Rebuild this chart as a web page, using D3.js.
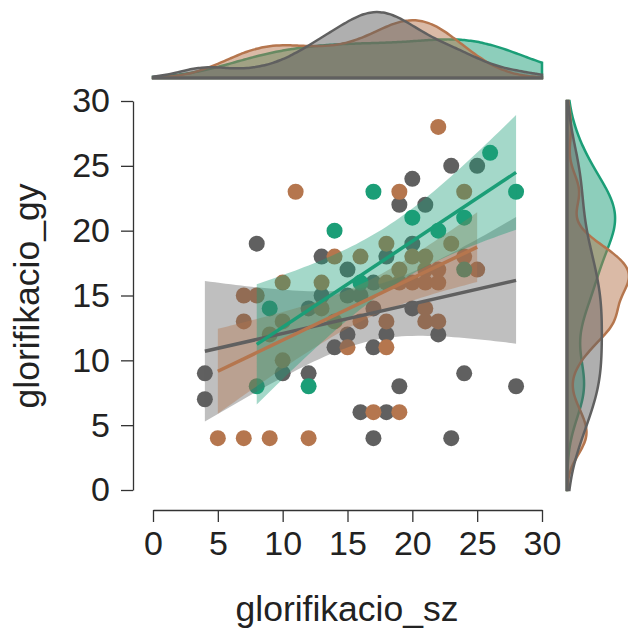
<!DOCTYPE html>
<html><head><meta charset="utf-8">
<script src="https://cdn.jsdelivr.net/npm/d3@7"></script>
<style>body{margin:0;background:#fff}svg{display:block}</style>
</head><body><svg id="c" width="628" height="632"></svg>
<script>
// ---- data ----
const groups = ["gray", "brown", "green"];
const grayX  = [4,4,8,10,12,12,13,13,14,15,15,15,16,16,17,17,17,17,18,18,18,19,19,20,20,20,21,22,23,23,24,25,28];
const grayY  = [9,7,19,9,9,14,18,15,11,12,15,17,15,6,14,11,4,16,12,6,18,22,8,24,14,19,22,12,25,4,9,25,8];
const brownX = [5,7,9,12,7,7,8,9,10,10,10,11,13,13,14,14,15,16,16,17,18,18,18,18,19,19,19,19,20,20,21,21,21,21,21,22,22,22,22,23,24,24,25];
const brownY = [4,4,4,4,13,15,15,12,10,13,16,23,14,16,13,18,11,13,18,6,11,13,16,19,6,16,17,23,16,18,13,14,16,17,18,13,16,17,28,19,18,23,17];
const greenX = [26,28,17,20,24,22,14,16,9,8,12,24];
const greenY = [26,23,23,21,21,20,20,16,14,8,8,17];
const xTicks = [0,5,10,15,20,25,30];
const yTicks = [0,5,10,15,20,25,30];
const xLabel = "glorifikacio_sz";
const yLabel = "glorifikacio_gy";
const colors = {gray:"#606060", brown:"#b5764e", green:"#1b9e77"};

const series = [
  {key:"gray",  xs:grayX,  ys:grayY},
  {key:"brown", xs:brownX, ys:brownY},
  {key:"green", xs:greenX, ys:greenY}
];

const svg = d3.select("#c");
const font = "'Liberation Sans', Arial, Helvetica, sans-serif";
const x = d3.scaleLinear().domain([0,30]).range([153,542]);
const y = d3.scaleLinear().domain([0,30]).range([490,101]);

// stats helpers
function tq(df){const z=1.959964;return z+(z**3+z)/(4*df)+(5*z**5+16*z**3+3*z)/(96*df*df)+(3*z**7+19*z**5+17*z**3-15*z)/(384*df**3);}
function fit(xs,ys){
  const n=xs.length,mx=d3.mean(xs),my=d3.mean(ys);
  let sxx=0,sxy=0;xs.forEach((v,i)=>{sxx+=(v-mx)**2;sxy+=(v-mx)*(ys[i]-my);});
  const b=sxy/sxx,a=my-b*mx;
  let ss=0;xs.forEach((v,i)=>{ss+=(ys[i]-a-b*v)**2;});
  const s=Math.sqrt(ss/(n-2)),t=tq(n-2);
  return {a,b,n,mx,sxx,s,t,lo:d3.min(xs),hi:d3.max(xs)};
}
function bw(v){const sd=d3.deviation(v);const s=v.slice().sort(d3.ascending);const iqr=d3.quantile(s,0.75)-d3.quantile(s,0.25);return 0.9*Math.min(sd,iqr/1.34)*Math.pow(v.length,-0.2);}
function kde(v){const h=bw(v);return d3.range(0,30.001,0.25).map(g=>[g,d3.mean(v,d=>Math.exp(-0.5*((g-d)/h)**2))/(h*Math.sqrt(2*Math.PI))]);}

// points
series.forEach(sr=>{
  svg.append("g").selectAll("circle").data(sr.xs.map((v,i)=>[v,sr.ys[i]])).join("circle")
    .attr("cx",d=>x(d[0])).attr("cy",d=>y(d[1])).attr("r",8).attr("fill",colors[sr.key]);
});
// bands
series.forEach(sr=>{
  const f=fit(sr.xs,sr.ys);
  const pts=d3.range(f.lo,f.hi+0.0001,(f.hi-f.lo)/60).map(v=>{
    const yh=f.a+f.b*v,se=f.s*Math.sqrt(1/f.n+(v-f.mx)**2/f.sxx);return [v,yh-f.t*se,yh+f.t*se];});
  svg.append("path").datum(pts).attr("fill",colors[sr.key]).attr("fill-opacity",0.4)
    .attr("d",d3.area().x(d=>x(d[0])).y0(d=>y(d[1])).y1(d=>y(d[2])));
});
// lines
series.forEach(sr=>{
  const f=fit(sr.xs,sr.ys);
  svg.append("path").datum([f.lo,f.hi]).attr("fill","none").attr("stroke",colors[sr.key]).attr("stroke-width",3.5)
    .attr("d",d3.line().x(d=>x(d)).y(d=>y(f.a+f.b*d)));
});

// axes
const yAx=svg.append("g").attr("transform","translate(133,0)")
  .call(d3.axisLeft(y).tickValues(yTicks).tickSize(12).tickSizeOuter(0).tickPadding(11));
const xAx=svg.append("g").attr("transform","translate(0,510)")
  .call(d3.axisBottom(x).tickValues(xTicks).tickSize(12).tickSizeOuter(0).tickPadding(9));
[yAx,xAx].forEach(g=>{
  g.selectAll("path,line").attr("stroke","#333").attr("stroke-width",1.3);
  g.selectAll("text").attr("font-family",font).attr("font-size",34).attr("fill","#222");
});
svg.append("text").attr("x",347).attr("y",621).attr("text-anchor","middle")
  .attr("font-family",font).attr("font-size",35.5).attr("fill","#222").text(xLabel);
svg.append("text").attr("transform","translate(39,296) rotate(-90)").attr("text-anchor","middle")
  .attr("font-family",font).attr("font-size",35.5).attr("fill","#222").text(yLabel);

// marginal densities
const order=["green","brown","gray"];
const dx={},dy={};
series.forEach(sr=>{dx[sr.key]=kde(sr.xs);dy[sr.key]=kde(sr.ys);});
const mxX=d3.max(order,k=>d3.max(dx[k],d=>d[1]));
const mxY=d3.max(order,k=>d3.max(dy[k],d=>d[1]));
const hT=d3.scaleLinear().domain([0,mxX]).range([78,12]);
const wR=d3.scaleLinear().domain([0,mxY]).range([567,629]);
order.forEach(k=>{
  svg.append("path").datum(dx[k]).attr("fill",colors[k]).attr("fill-opacity",0.5)
    .attr("stroke",colors[k]).attr("stroke-width",2.5)
    .attr("d",d3.area().x(d=>x(d[0])).y0(78).y1(d=>hT(d[1])).curve(d3.curveBasis));
  svg.append("path").datum(dy[k]).attr("fill",colors[k]).attr("fill-opacity",0.5)
    .attr("stroke",colors[k]).attr("stroke-width",2.5)
    .attr("d",d3.area().y(d=>y(d[0])).x0(567).x1(d=>wR(d[1])).curve(d3.curveBasis));
});
svg.append("line").attr("x1",152).attr("x2",543).attr("y1",78).attr("y2",78).attr("stroke","#606060").attr("stroke-width",3);
svg.append("line").attr("x1",567).attr("x2",567).attr("y1",100).attr("y2",491).attr("stroke","#606060").attr("stroke-width",3);
</script></body></html>
